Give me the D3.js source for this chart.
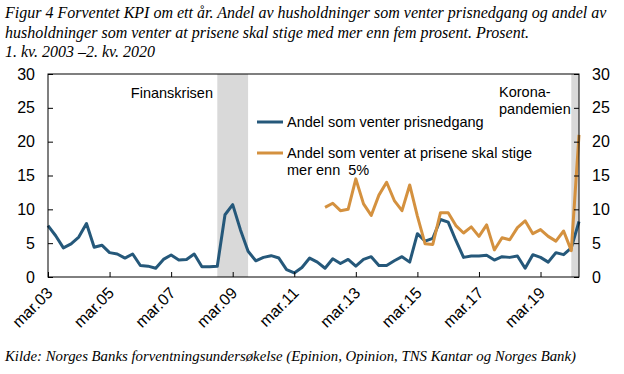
<!DOCTYPE html>
<html>
<head>
<meta charset="utf-8">
<script src="https://cdn.jsdelivr.net/npm/d3@7"></script>
<style>
  body { margin: 0; background: #fff; }
  text { font-family: "Liberation Sans", Arial, sans-serif; fill: #000; }
  .cap { font-family: "Liberation Serif", "Times New Roman", serif; font-style: italic; font-size: 16px; }
  .src { font-family: "Liberation Serif", "Times New Roman", serif; font-style: italic; font-size: 14.8px; }
</style>
</head>
<body>
<svg width="624" height="374"></svg>
<script>
// quarters 1. kv. 2003 - 2. kv. 2020
const quarters = [];
for (let yr = 2003; yr <= 2020; yr++) {
  for (let q = 1; q <= 4; q++) {
    if (yr === 2020 && q > 2) break;
    quarters.push(yr + 'K' + q);
  }
}

// Andel som venter prisnedgang
const prisnedgang = [
  7.6, 6.1, 4.3, 4.9, 5.9, 7.9, 4.4, 4.7, 3.6, 3.4,
  2.8, 3.4, 1.7, 1.6, 1.3, 2.6, 3.25, 2.5, 2.6, 3.4,
  1.5, 1.5, 1.6, 9.2, 10.7, 7.0, 3.8, 2.4, 2.9, 3.15,
  2.8, 1.1, 0.6, 1.4, 2.8, 2.2, 1.3, 2.7, 2.0, 2.6,
  1.6, 2.6, 3.0, 1.7, 1.7, 2.4, 3.0, 2.2, 6.4, 5.3,
  5.7, 8.5, 8.1, 5.4, 2.9, 3.1, 3.1, 3.2, 2.5, 3.0,
  2.9, 3.1, 1.3, 3.3, 2.9, 2.2, 3.6, 3.3, 4.3, 8.2
];

// Andel som venter at prisene skal stige mer enn 5%, fra 1. kv. 2012
const overFemStart = '2012K1';
const overFem = [
  10.3, 10.9, 9.8, 10.0, 14.5, 10.8, 9.1, 12.1, 14.0, 11.3,
  9.8, 13.6, 9.0, 4.9, 4.8, 9.5, 9.5, 7.6, 6.5, 7.4,
  6.0, 7.7, 4.0, 5.8, 5.5, 7.3, 8.3, 6.4, 7.0, 6.0,
  5.3, 6.8, 3.9, 21.0
];

const yTicks = [0, 5, 10, 15, 20, 25, 30];
const tickQuarters = ['2003K1', '2005K1', '2007K1', '2009K1', '2011K1', '2013K1', '2015K1', '2017K1', '2019K1'];
const tickLabels = ['mar.03', 'mar.05', 'mar.07', 'mar.09', 'mar.11', 'mar.13', 'mar.15', 'mar.17', 'mar.19'];

const shading = [
  { from: '2008K3', to: '2009K3' },
  { from: '2020K1', to: '2020K2' }
];

const titleLines = [
  'Figur 4 Forventet KPI om ett år. Andel av husholdninger som venter prisnedgang og andel av',
  'husholdninger som venter at prisene skal stige med mer enn fem prosent. Prosent.',
  '1. kv. 2003 \u20132. kv. 2020'
];
const source = 'Kilde: Norges Banks forventningsundersøkelse (Epinion, Opinion, TNS Kantar og Norges Bank)';

const blue = '#25587a';
const orange = '#d4913f';

const svg = d3.select('svg');
const m = { left: 48, right: 579, top: 74, bottom: 277 };

const x = d3.scalePoint().domain(quarters).range([m.left, m.right]);
const y = d3.scaleLinear().domain([0, 30]).range([m.bottom, m.top]);

// shaded periods
svg.selectAll('.shade')
  .data(shading)
  .join('rect')
  .attr('x', d => x(d.from))
  .attr('y', m.top)
  .attr('width', d => x(d.to) - x(d.from))
  .attr('height', m.bottom - m.top)
  .attr('fill', '#d9d9d9');

// series
const s1 = quarters.map((q, i) => ({ q: q, v: prisnedgang[i] }));
const off = quarters.indexOf(overFemStart);
const s2 = overFem.map((v, i) => ({ q: quarters[off + i], v: v }));

const line = d3.line().x(d => x(d.q)).y(d => y(d.v));

svg.append('path')
  .datum(s1)
  .attr('d', line)
  .attr('fill', 'none')
  .attr('stroke', blue)
  .attr('stroke-width', 3)
  .attr('stroke-linejoin', 'round');

svg.append('path')
  .datum(s2)
  .attr('d', line)
  .attr('fill', 'none')
  .attr('stroke', orange)
  .attr('stroke-width', 3)
  .attr('stroke-linejoin', 'round');

// frame
svg.append('rect')
  .attr('x', m.left).attr('y', m.top)
  .attr('width', m.right - m.left).attr('height', m.bottom - m.top)
  .attr('fill', 'none').attr('stroke', '#000').attr('stroke-width', 1);

// y axes, ticks inward
const yl = svg.append('g').attr('transform', `translate(${m.left},0)`)
  .call(d3.axisLeft(y).tickValues(yTicks).tickSize(-5).tickPadding(13));
const yr = svg.append('g').attr('transform', `translate(${m.right},0)`)
  .call(d3.axisRight(y).tickValues(yTicks).tickSize(-5).tickPadding(13));
[yl, yr].forEach(g => {
  g.select('.domain').remove();
  g.selectAll('line').attr('stroke', '#000');
  g.selectAll('text').style('font-size', '16px').style('font-family', '"Liberation Sans", Arial, sans-serif');
});

// x axis, ticks inward
const xa = svg.append('g').attr('transform', `translate(0,${m.bottom})`)
  .call(d3.axisBottom(x).tickValues(tickQuarters).tickSize(-5).tickFormat((d, i) => tickLabels[i]));
xa.select('.domain').remove();
xa.selectAll('line').attr('stroke', '#000');
xa.selectAll('text')
  .style('font-size', '16px')
  .style('font-family', '"Liberation Sans", Arial, sans-serif')
  .attr('text-anchor', 'end')
  .attr('dy', null)
  .attr('y', 0)
  .attr('transform', 'translate(5,17) rotate(-45)');

// annotations
svg.append('text').attr('x', 213).attr('y', 98).attr('text-anchor', 'end')
  .style('font-size', '14.5px').text('Finanskrisen');
svg.append('text').attr('x', 499).attr('y', 97)
  .style('font-size', '14.5px').text('Korona-');
svg.append('text').attr('x', 499).attr('y', 114)
  .style('font-size', '14.5px').text('pandemien');

// legend
const legend = [
  { color: blue, lines: ['Andel som venter prisnedgang'], y: 122 },
  { color: orange, lines: ['Andel som venter at prisene skal stige', 'mer enn  5%'], y: 153 }
];
legend.forEach(l => {
  svg.append('line').attr('x1', 257).attr('x2', 283).attr('y1', l.y).attr('y2', l.y)
    .attr('stroke', l.color).attr('stroke-width', 3);
  l.lines.forEach((t, j) => {
    svg.append('text').attr('x', 287).attr('y', l.y + 5 + j * 17)
      .style('font-size', '14.5px').style('white-space', 'pre').text(t);
  });
});

// title and source
svg.selectAll('.title')
  .data(titleLines)
  .join('text')
  .attr('class', 'cap')
  .attr('x', 5)
  .attr('y', (d, i) => 18 + i * 19.5)
  .text(d => d);

svg.append('text').attr('class', 'src').attr('x', 5).attr('y', 361).text(source);
</script>
</body>
</html>
